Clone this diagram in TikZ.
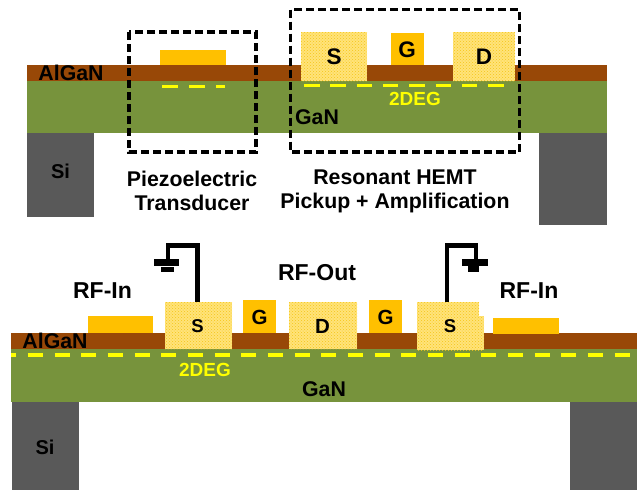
\documentclass[tikz,border=0pt]{standalone}
\usepackage{fontspec}
\setmainfont{Liberation Sans}
\usetikzlibrary{patterns}
\definecolor{algan}{HTML}{984807}
\definecolor{gan}{HTML}{77933C}
\definecolor{si}{HTML}{595959}
\definecolor{gold}{HTML}{FFC000}
\definecolor{ohmic}{HTML}{FFE37A}
\definecolor{ohmicdot}{HTML}{F5C518}
\definecolor{twodeg}{HTML}{FFFF00}
\newcommand{\fs}[1]{\fontsize{#1}{24}\bfseries\selectfont}
\tikzset{
  x=1pt,y=-1pt,
  block/.style={anchor=north west,inner sep=0,outer sep=0,draw=none},
  layerA/.style={block,fill=algan},
  layerG/.style={block,fill=gan},
  substrate/.style={block,fill=si},
  metal/.style={block,fill=gold},
  contact/.style={block,fill=ohmic,postaction={pattern=crosshatch dots,pattern color=ohmicdot}},
  lbl/.style={inner sep=0,outer sep=0,text=black,align=center,font=\fs{21.3}},
  lblbig/.style={lbl,font=\fs{23}},
  lblS/.style={lbl,font=\fs{18.5}},
  lblG/.style={lbl,font=\fs{20.5}},
  lblTop/.style={lbl,font=\fs{22.5}},
  lbly/.style={lbl,text=twodeg,font=\fs{19}},
  box/.style={draw=black,line width=3.4pt,dash pattern=on 8pt off 4pt},
  wire/.style={draw=black,line width=4.8pt},
  gbar/.style={fill=black,inner sep=0,outer sep=0,draw=none},
  channel/.style={draw=twodeg,line width=3pt}
}
\begin{document}
\begin{tikzpicture}
\useasboundingbox (0,0) rectangle (644,490);
% ---------- top device
\node[substrate,minimum width=67pt,minimum height=85pt] (siTL) at (27,132) {};
\node[substrate,minimum width=68pt,minimum height=93pt] (siTR) at (539,132) {};
\node[layerG,minimum width=580pt,minimum height=52pt] (ganT) at (27,81) {};
\node[layerA,minimum width=580pt,minimum height=16pt] (alganT) at (27,65) {};
\node[metal,minimum width=66pt,minimum height=15.5pt] (padT) at (160,49.5) {};
\node[contact,minimum width=66pt,minimum height=49pt] (sT) at (301,32) {};
\node[metal,minimum width=33pt,minimum height=32pt] (gT) at (391,33) {};
\node[contact,minimum width=62pt,minimum height=49pt] (dT) at (453,32) {};
\node[lblTop] at (334,57) {S};
\node[lblTop] at (407,50) {G};
\node[lblTop] at (484,57) {D};
\node[lbl] (alganTl) at (71,73) {AlGaN};
\node[lbl] (ganTl) at (317,117) {GaN};
\node[lbly] (degT) at (415,99) {2DEG};
\node[lbl,font=\fs{20}] (siTl) at (60.5,171) {Si};
\coordinate (c1a) at (162,86);
\coordinate (c1b) at (225,86);
\coordinate (c2a) at (304,85.5);
\coordinate (c2b) at (505,85.5);
\draw[channel,dash pattern=on 16pt off 11pt] (c1a) -- (c1b);
\draw[channel,dash pattern=on 15.5pt off 10.8pt] (c2a) -- (c2b);
\coordinate (b1a) at (129,32);
\coordinate (b1b) at (256,152);
\coordinate (b2a) at (290.5,9.5);
\coordinate (b2b) at (519.5,152);
\draw[box] (b1a) rectangle (b1b);
\draw[box] (b2a) rectangle (b2b);
\node[lbl] (pt) at (192,191) {Piezoelectric\\Transducer};
\node[lbl] (rh) at (395,191) {Resonant HEMT\\Pickup + Amplification};
% ---------- bottom device
\node[substrate,minimum width=67pt,minimum height=89pt] (siBL) at (12,401) {};
\node[substrate,minimum width=67pt,minimum height=89pt] (siBR) at (570,401) {};
\node[layerG,minimum width=626pt,minimum height=53pt] (ganB) at (11,349) {};
\node[layerA,minimum width=626pt,minimum height=16pt] (alganB) at (11,333) {};
\node[metal,minimum width=65pt,minimum height=17pt] (padL) at (88,316) {};
\node[metal,minimum width=66pt,minimum height=16pt] (padR) at (493,318) {};
\node[contact,minimum width=67pt,minimum height=47pt] (sL) at (165,302) {};
\node[metal,minimum width=33pt,minimum height=33pt] (gL) at (243,300) {};
\node[contact,minimum width=68pt,minimum height=47pt] (dB) at (289,302) {};
\node[metal,minimum width=33pt,minimum height=33pt] (gR) at (369,300) {};
\node[contact,minimum width=62pt,minimum height=20pt] (sRtop) at (417,302) {};
\node[contact,minimum width=67pt,minimum height=34pt] (sR) at (417,316) {};
\node[lblS] at (197.5,326) {S};
\node[lblG] at (259.5,317) {G};
\node[lbl,font=\fs{20.5}] at (322.5,326) {D};
\node[lblG] at (385.5,317) {G};
\node[lblS] at (450,326) {S};
\node[lbl] (alganBl) at (55,341) {AlGaN};
\node[lbl] (ganBl) at (324,389) {GaN};
\node[lbly] (degB) at (205,370) {2DEG};
\node[lbl,font=\fs{20}] (siBl) at (45,447) {Si};
\node[lblbig] (rfL) at (102.5,291) {RF-In};
\node[lblbig] (rfO) at (317,273) {RF-Out};
\node[lblbig] (rfR) at (529,291) {RF-In};
\coordinate (c3a) at (11,355);
\coordinate (c3b) at (637,355);
\draw[channel,line width=3.8pt,dash pattern=on 15pt off 11.67pt,dash phase=9.7pt] (c3a) -- (c3b);
% grounds
\node[gbar,minimum width=25pt,minimum height=7pt] (gndLa) at (166.5,262.5) {};
\node[gbar,minimum width=13pt,minimum height=5.5pt] (gndLb) at (167.5,269.5) {};
\node[gbar,minimum width=26pt,minimum height=7pt] (gndRa) at (475,262.5) {};
\node[gbar,minimum width=11pt,minimum height=6pt] (gndRb) at (473.5,269) {};
\coordinate (wL) at (197.5,302);
\coordinate (wLc) at (197.5,245.5);
\coordinate (wLd) at (168,245.5);
\coordinate (wLe) at (168,260);
\coordinate (wR) at (447,302);
\coordinate (wRc) at (447,245.5);
\coordinate (wRd) at (476,245.5);
\coordinate (wRe) at (476,260);
\draw[wire,line join=miter] (wL) -- (wLc) -- (wLd) -- (wLe);
\draw[wire,line join=miter] (wR) -- (wRc) -- (wRd) -- (wRe);
\end{tikzpicture}
\end{document}
